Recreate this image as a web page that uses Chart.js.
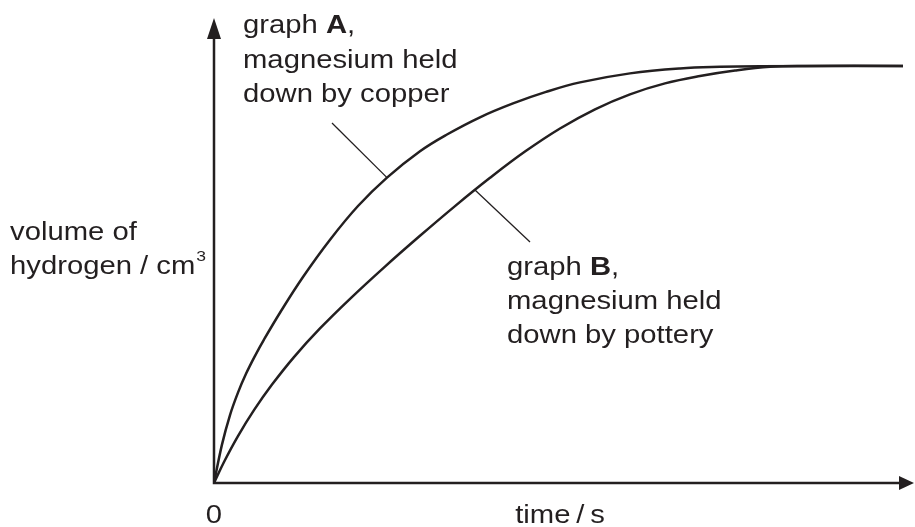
<!DOCTYPE html>
<html>
<head>
<meta charset="utf-8">
<script src="https://cdn.jsdelivr.net/npm/chart.js@4.4.1/dist/chart.umd.min.js"></script>
<style>
  html, body { margin: 0; padding: 0; background: #fff; }
  #wrap { width: 915px; height: 527px; }
</style>
</head>
<body>
<div id="wrap"><canvas id="myChart"></canvas></div>
<script>
// time and volume in arbitrary units (0-100)
var timeA = [0, 1.14, 2.29, 3.43, 4.58, 5.87, 7.15, 9.44, 12.73, 16.6, 20.6, 24.75, 29.47, 33.33, 38.05, 42.78, 47.5, 52.36, 59.51, 66.67, 72.39, 78.11, 98.57];
var volA  = [0, 8.26, 14.62, 19.44, 23.48, 27.35, 30.84, 36.62, 44.3, 52.32, 59.57, 65.68, 71.35, 74.95, 78.65, 81.63, 84.11, 86.15, 88.09, 89.16, 89.51, 89.63, 89.7];

var timeB = [0, 1.43, 3.43, 5.72, 8.3, 11.44, 15.16, 19.46, 24.46, 29.47, 34.48, 39.49, 44.49, 49.5, 54.51, 59.51, 64.52, 69.53, 74.54, 79.54, 84.55, 98.57];
var volB  = [0, 4.52, 10.09, 15.66, 21.16, 27.08, 33.23, 39.61, 46.54, 53.16, 59.55, 65.63, 71.27, 76.24, 80.37, 83.59, 85.94, 87.53, 88.71, 89.51, 89.68, 89.7];

var axisMax = 100;

// labels and leader lines (leader ends in data units)
var labelA = ['graph ', 'A', ','];
var labelB = ['graph ', 'B', ','];
var textA = ['magnesium held', 'down by copper'];
var textB = ['magnesium held', 'down by pottery'];
var leaderA = [[16.88, 77.42], [24.75, 65.68]];
var leaderB = [[37.34, 63.0], [45.21, 51.83]];

var font = '"Liberation Sans", Arial, sans-serif';
var ink = '#231f20';
var size = 25;
var hs = 1.17; // the sketch text is a bit wide

function pts(xs, ys) {
    return xs.map(function(x, i) { return { x: x, y: ys[i] }; });
}

var extras = {
    id: 'extras',
    afterDraw: function(chart) {
        var c = chart.ctx;
        var xs = chart.scales.x, ys = chart.scales.y;
        var x0 = xs.getPixelForValue(0), y0 = ys.getPixelForValue(0);
        var xEnd = xs.getPixelForValue(axisMax), yEnd = ys.getPixelForValue(axisMax);
        c.save();
        c.strokeStyle = ink;
        c.fillStyle = ink;
        c.lineWidth = 2.5;
        // axes
        c.beginPath();
        c.moveTo(x0, yEnd + 15);
        c.lineTo(x0, y0);
        c.lineTo(xEnd - 12, y0);
        c.stroke();
        // arrow heads
        c.beginPath();
        c.moveTo(x0, yEnd);
        c.lineTo(x0 - 7, yEnd + 21);
        c.lineTo(x0 + 7, yEnd + 21);
        c.closePath();
        c.fill();
        c.beginPath();
        c.moveTo(xEnd + 1, y0);
        c.lineTo(xEnd - 14, y0 - 7);
        c.lineTo(xEnd - 14, y0 + 7);
        c.closePath();
        c.fill();

        // leader lines
        c.lineWidth = 1.3;
        [leaderA, leaderB].forEach(function(l) {
            c.beginPath();
            c.moveTo(xs.getPixelForValue(l[0][0]), ys.getPixelForValue(l[0][1]));
            c.lineTo(xs.getPixelForValue(l[1][0]), ys.getPixelForValue(l[1][1]));
            c.stroke();
        });

        // text, drawn slightly stretched sideways
        c.textBaseline = 'alphabetic';
        function txt(s, x, y, bold, px) {
            c.font = (bold ? 'bold ' : '') + (px || size) + 'px ' + font;
            c.save();
            c.translate(x, y);
            c.scale(hs, 1);
            c.fillText(s, 0, 0);
            c.restore();
            return c.measureText(s).width * hs;
        }
        function label(parts, x, y) {
            var w = txt(parts[0], x, y);
            w += txt(parts[1], x + w, y, true);
            txt(parts[2], x + w, y);
        }
        c.textAlign = 'left';
        label(labelA, 243, 33);
        txt(textA[0], 243, 68);
        txt(textA[1], 243, 102);

        label(labelB, 507, 275);
        txt(textB[0], 507, 309);
        txt(textB[1], 507, 343);

        txt('volume of', 10, 240);
        var w = txt('hydrogen / cm', 10, 274);
        txt('3', 10 + w + 1, 261, false, 15);

        c.textAlign = 'center';
        txt('0', x0, 523);
        txt('time\u2009/\u2009s', 560, 523);
        c.restore();
    }
};

var ctx = document.getElementById('myChart').getContext('2d');
var myChart = new Chart(ctx, {
    type: 'scatter',
    data: {
        datasets: [{
            label: 'graph A',
            data: pts(timeA, volA),
            showLine: true,
            borderColor: ink,
            borderWidth: 2.5,
            pointRadius: 0,
            tension: 0.4
        }, {
            label: 'graph B',
            data: pts(timeB, volB),
            showLine: true,
            borderColor: ink,
            borderWidth: 2.5,
            pointRadius: 0,
            tension: 0.4
        }]
    },
    options: {
        responsive: true,
        maintainAspectRatio: false,
        animation: false,
        layout: { padding: { left: 214, right: 2, top: 18, bottom: 44 } },
        plugins: {
            legend: { display: false },
            tooltip: { enabled: false }
        },
        scales: {
            x: { type: 'linear', min: 0, max: axisMax, display: false },
            y: { type: 'linear', min: 0, max: axisMax, display: false }
        }
    },
    plugins: [extras]
});
</script>
</body>
</html>
